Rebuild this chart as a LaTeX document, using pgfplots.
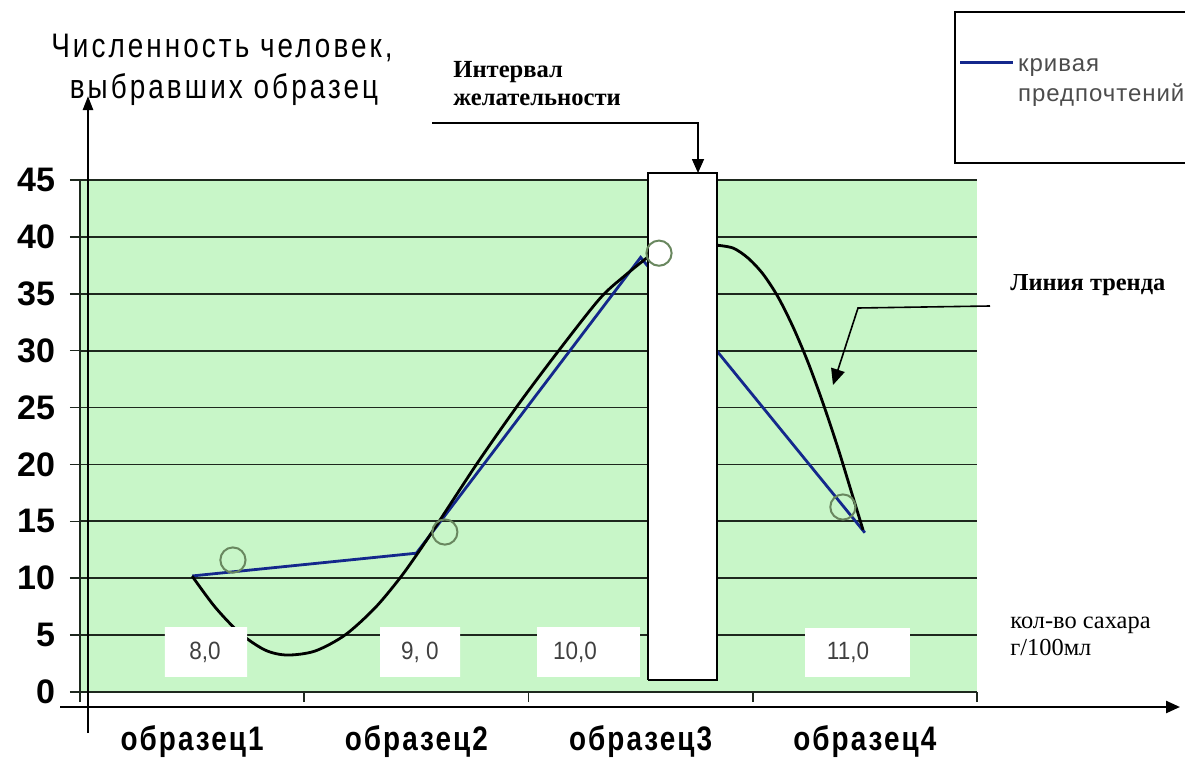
\documentclass[border=0pt]{standalone}
\usepackage{fontspec}
\setmainfont{Liberation Sans}
\newfontfamily\serifr{Liberation Serif}
\newfontfamily\ylabfamily{Liberation Sans}[FakeStretch=0.82,LetterSpace=9]
\newfontfamily\catfamily{Liberation Sans}[FakeStretch=0.82,LetterSpace=6]
\newfontfamily\boxfamily{Liberation Sans}[FakeStretch=0.9]
\newfontfamily\legfamily{Liberation Sans}[LetterSpace=4]
\usepackage{pgfplots}
\pgfplotsset{compat=1.18}
\usetikzlibrary{arrows.meta}

\definecolor{plotgreen}{RGB}{200,246,200}
\definecolor{prefblue}{RGB}{20,40,140}
\definecolor{circ}{RGB}{105,135,95}
\definecolor{gridc}{RGB}{30,40,30}

\begin{document}
\begin{tikzpicture}
\begin{axis}[
    at={(40pt,-346pt)}, anchor=south west,
    scale only axis, width=448.5pt, height=256pt,
    xmin=0.5, xmax=4.5, ymin=0, ymax=45,
    clip=false,
    axis x line=bottom, axis y line=left,
    axis line style={-, gridc, line width=0.8pt},
    every outer x axis line/.append style={-},
    every outer y axis line/.append style={-},
    axis background/.style={fill=plotgreen},
    ytick={0,5,...,45},
    ymajorgrids,
    major grid style={gridc, line width=0.9pt},
    tick align=outside,
    major tick length=5pt, minor tick length=5pt,
    tick style={gridc, line width=0.8pt},
    xtick={1,2,3,4},
    xticklabels={образец1,образец2,образец3,образец4},
    major x tick style={draw=none},
    minor xtick={0.5,1.5,2.5,3.5,4.5},
    /pgf/number format/assume math mode=true,
    yticklabel style={font=\fontsize{17}{17}\selectfont\bfseries, xshift=-4pt},
    xticklabel style={font=\catfamily\bfseries\fontsize{17}{17}\selectfont, anchor=base, yshift=-24pt},
    legend style={at={(0.9755,1.338)}, anchor=north west, draw=none, fill=none,
        inner xsep=1.75pt, inner ysep=20pt,
        nodes={inner sep=1.75pt, text=black!70, font=\legfamily\fontsize{12}{15}\selectfont}},
    legend cell align=left,
    legend image code/.code={\draw[#1] (0pt,0pt) -- (26.5pt,0pt);},
]
% кривая предпочтений
\addplot[prefblue, line width=1.4pt] coordinates {(1,10.2) (2,12.2) (3,38.2) (4,14)};
\addlegendentry{\begin{tabular}[t]{@{}l@{}}кривая\\предпочтений\end{tabular}}

% линия тренда
\addplot[black, line width=1.4pt, smooth, forget plot] coordinates {
    (1.0,10.19) (1.102,7.47) (1.213,5.18) (1.325,3.69) (1.423,3.25)
    (1.548,3.60) (1.682,5.01) (1.815,7.38) (1.927,10.02) (2.016,12.48)
    (2.105,15.11) (2.275,20.21) (2.453,25.22) (2.640,30.14) (2.819,34.6)
    (2.930,36.6) (3.04,38.35)};
\addplot[black, line width=1.4pt, smooth, forget plot] coordinates {
    (3.335,39.28) (3.412,39.02) (3.479,38.14) (3.546,36.73) (3.613,34.71)
    (3.680,32.07) (3.746,29.00) (3.813,25.40) (3.880,21.44) (3.947,17.13)
    (3.992,14.24)};

% white label boxes
\addplot[fill=white, draw=none, forget plot] coordinates {(0.879,1.32) (1.245,1.32) (1.245,5.71) (0.879,5.71) (0.879,1.32)};
\addplot[fill=white, draw=none, forget plot] coordinates {(1.838,1.32) (2.195,1.32) (2.195,5.71) (1.838,5.71) (1.838,1.32)};
\addplot[fill=white, draw=none, forget plot] coordinates {(2.538,1.32) (2.997,1.32) (2.997,5.71) (2.538,5.71) (2.538,1.32)};
\addplot[fill=white, draw=none, forget plot] coordinates {(3.733,1.32) (4.201,1.32) (4.201,5.62) (3.733,5.62) (3.733,1.32)};

\node[font=\boxfamily\fontsize{12.5}{13}\selectfont, text=black!75] at (axis cs:1.057,3.5) {8,0};
\node[font=\boxfamily\fontsize{12.5}{13}\selectfont, text=black!75] at (axis cs:2.016,3.5) {9, 0};
\node[font=\boxfamily\fontsize{12.5}{13}\selectfont, text=black!75] at (axis cs:2.707,3.5) {10,0};
\node[font=\boxfamily\fontsize{12.5}{13}\selectfont, text=black!75] at (axis cs:3.925,3.5) {11,0};

% интервал желательности
\addplot[fill=white, draw=black, line width=0.8pt, forget plot] coordinates {(3.033,1.05) (3.3405,1.05) (3.3405,45.6) (3.033,45.6) (3.033,1.05)};

% points
\addplot[only marks, mark=o, mark size=6.3pt, mark options={circ, line width=1pt}, forget plot]
    coordinates {(1.182,11.6) (2.127,14.06) (3.082,38.57) (3.902,16.26)};
\end{axis}

\begin{scope}[x=0.5pt, y=-0.5pt]
  % legend frame
  \draw[black, line width=0.8pt] (955,12) rectangle (1200,163);
  % axes arrows
  \draw[black, line width=1.2pt, -{Triangle[length=7pt,width=5pt]}] (88,733) -- (88,96);
  \draw[black, line width=1.2pt, -{Triangle[length=7pt,width=6pt]}] (60,707) -- (1180,707);
  % y label
  \node[anchor=base, inner sep=0pt, font=\ylabfamily\fontsize{17}{17}\selectfont] at (222,57) {Численность человек,};
  \node[anchor=base, inner sep=0pt, font=\ylabfamily\fontsize{17}{17}\selectfont] at (224,98) {выбравших образец};
  % annotations
  \node[anchor=base west, inner sep=0pt, font=\serifr\bfseries\fontsize{12.3}{13}\selectfont] at (453,77) {Интервал};
  \node[anchor=base west, inner sep=0pt, font=\serifr\bfseries\fontsize{12.3}{13}\selectfont] at (453,105) {желательности};
  \draw[black, line width=0.8pt, -{Triangle[length=7pt,width=6pt]}] (432,123) -- (698,123) -- (698,173);
  \node[anchor=base west, inner sep=0pt, font=\serifr\bfseries\fontsize{12.2}{13}\selectfont] at (1010,290) {Линия тренда};
  \draw[black, line width=0.8pt, -{Triangle[length=8pt,width=7pt]}] (990,306) -- (858,308) -- (833,385);
  \node[anchor=base west, inner sep=0pt, font=\serifr\fontsize{12.2}{13}\selectfont] at (1010,628) {кол-во сахара};
  \node[anchor=base west, inner sep=0pt, font=\serifr\fontsize{12.2}{13}\selectfont] at (1010,655) {г/100мл};
  \pgfresetboundingbox
  \path[use as bounding box] (0,0) rectangle (1185,760);
\end{scope}
\end{tikzpicture}
\end{document}
